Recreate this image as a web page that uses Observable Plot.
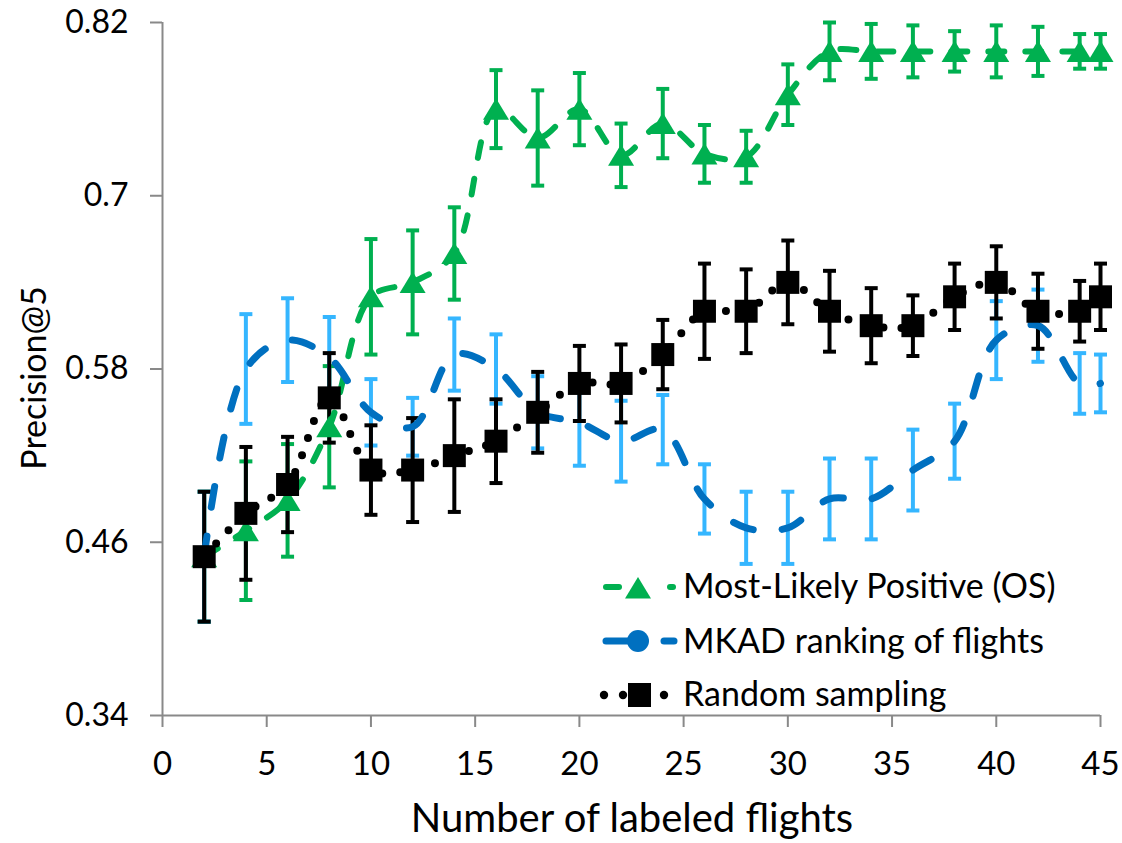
<!DOCTYPE html>
<html>
<head>
<meta charset="utf-8">
<script src="https://cdn.jsdelivr.net/npm/d3@7"></script>
<script src="https://cdn.jsdelivr.net/npm/@observablehq/plot@0.6"></script>
<style>
  html, body { margin: 0; padding: 0; background: #fff; }
  #chart { position: relative; width: 1122px; height: 843px; overflow: hidden; }
</style>
</head>
<body>
<div id="chart"></div>
<script>
// ---- data ----
const xs = [2,4,6,8,10,12,14,16,18,20,22,24,26,28,30,32,34,36,38,40,42,44,45];

const mlp    = [0.450,0.468,0.489,0.540,0.630,0.640,0.660,0.760,0.740,0.760,0.728,0.750,0.729,0.727,0.770,0.800,0.800,0.800,0.800,0.800,0.800,0.800,0.800];
const mlpErr = [0.045,0.048,0.039,0.042,0.040,0.036,0.032,0.027,0.033,0.025,0.022,0.024,0.020,0.018,0.021,0.020,0.019,0.018,0.014,0.018,0.017,0.012,0.012];

const mkad    = [0.450,0.580,0.600,0.588,0.550,0.540,0.590,0.580,0.550,0.543,0.530,0.538,0.490,0.470,0.470,0.490,0.490,0.510,0.530,0.600,0.610,0.570,0.570];
const mkadErr = [0.045,0.038,0.029,0.028,0.023,0.020,0.025,0.024,0.025,0.030,0.028,0.024,0.024,0.025,0.025,0.028,0.028,0.028,0.026,0.027,0.025,0.021,0.020];

const rnd    = [0.450,0.480,0.500,0.560,0.510,0.510,0.520,0.530,0.550,0.570,0.570,0.590,0.620,0.620,0.640,0.620,0.610,0.610,0.630,0.640,0.620,0.620,0.630];
const rndErr = [0.045,0.046,0.033,0.031,0.031,0.036,0.039,0.029,0.028,0.026,0.027,0.024,0.033,0.029,0.029,0.028,0.026,0.021,0.023,0.025,0.026,0.021,0.023];

const seriesNames = ["Most-Likely Positive (OS)", "MKAD ranking of flights", "Random sampling"];
const xTicks = [0,5,10,15,20,25,30,35,40,45];
const yTicks = [0.34,0.46,0.58,0.7,0.82];
const yTickLabels = ["0.34","0.46","0.58","0.7","0.82"];
const xTitle = "Number of labeled flights";
const yTitle = "Precision@5";

// ---- styling ----
const GREEN = "#00B050", BLUE = "#0070C0", LIGHTBLUE = "#35B6FF", BLACK = "#000000", AXIS = "#898989";
const FONT = "Lato, 'Open Sans', sans-serif";

const toRows = (vals, errs) => xs.map((x, i) => ({x, y: vals[i], e: errs[i]}));
const gRows = toRows(mlp, mlpErr);
const bRows = toRows(mkad, mkadErr);
const kRows = toRows(rnd, rndErr);

const capSymbol = {draw(ctx) { ctx.moveTo(-6.5, 0); ctx.lineTo(6.5, 0); }};
const triSymbol = {draw(ctx) { ctx.moveTo(0, -11); ctx.lineTo(13, 10.5); ctx.lineTo(-13, 10.5); ctx.closePath(); }};
const sqSymbol  = {draw(ctx) { ctx.rect(-11.5, -11.5, 23, 23); }};

function errorBars(rows, color) {
  return [
    Plot.ruleX(rows, {x: "x", y1: d => d.y - d.e, y2: d => d.y + d.e, stroke: color, strokeWidth: 4}),
    Plot.dot(rows, {x: "x", y: d => d.y + d.e, symbol: capSymbol, fill: "none", stroke: color, strokeWidth: 4}),
    Plot.dot(rows, {x: "x", y: d => d.y - d.e, symbol: capSymbol, fill: "none", stroke: color, strokeWidth: 4})
  ];
}

const svg = Plot.plot({
  width: 1122,
  height: 843,
  marginLeft: 162,
  marginRight: 22,
  marginTop: 22,
  marginBottom: 128,
  style: {fontFamily: FONT, fontSize: "32px", background: "#fff", color: "#000"},
  x: {domain: [0, 45]},
  y: {domain: [0.34, 0.82]},
  marks: [
    // axes
    Plot.axisY({ticks: yTicks, tickFormat: (d, i) => yTickLabels[i], tickSize: 12, tickPadding: 22, stroke: AXIS, strokeWidth: 2, fill: "#000", fontSize: 32, label: null}),
    Plot.axisX({ticks: xTicks, tickSize: 12, tickPadding: 24, stroke: AXIS, strokeWidth: 2, fill: "#000", fontSize: 33, label: null}),
    Plot.ruleX([0], {stroke: AXIS, strokeWidth: 2}),
    Plot.ruleY([0.34], {stroke: AXIS, strokeWidth: 2}),
    // error bars
    ...errorBars(gRows, GREEN),
    ...errorBars(bRows, LIGHTBLUE),
    ...errorBars(kRows, BLACK),
    // lines
    Plot.line(gRows, {x: "x", y: "y", stroke: GREEN, strokeWidth: 6, strokeDasharray: "16,21", strokeLinecap: "round", curve: "catmull-rom"}),
    Plot.line(bRows, {x: "x", y: "y", stroke: BLUE, strokeWidth: 7, strokeDasharray: "21,29", strokeLinecap: "round", curve: "catmull-rom"}),
    Plot.line(kRows, {x: "x", y: "y", stroke: BLACK, strokeWidth: 8, strokeDasharray: "0,18", strokeLinecap: "round", curve: "catmull-rom"}),
    // markers
    Plot.dot(gRows, {x: "x", y: "y", symbol: triSymbol, fill: GREEN, stroke: "none"}),
    Plot.dot(kRows, {x: "x", y: "y", symbol: sqSymbol, fill: BLACK, stroke: "none"})
  ]
});

const root = d3.select(svg);
// ---- axis titles ----
root.append("text").attr("x", 632).attr("y", 832).attr("text-anchor", "middle")
  .attr("font-family", FONT).attr("font-size", 40).attr("fill", "#000").text(xTitle);
root.append("text").attr("transform", "translate(46,378) rotate(-90)").attr("text-anchor", "middle")
  .attr("font-family", FONT).attr("font-size", 34).attr("fill", "#000").text(yTitle);

// ---- legend (inside the plot area, lower right) ----
const g = root.append("g").attr("class", "legend");
const rowY = [587, 641, 695];
const textBase = [598, 653, 706];
// row 1: green dash, triangle, dash
g.append("line").attr("x1", 606).attr("x2", 619).attr("y1", rowY[0]).attr("y2", rowY[0])
  .attr("stroke", GREEN).attr("stroke-width", 6).attr("stroke-linecap", "round");
g.append("path").attr("d", "M638,577L651,598.5L625,598.5Z").attr("fill", GREEN);
g.append("line").attr("x1", 670).attr("x2", 673).attr("y1", rowY[0]).attr("y2", rowY[0])
  .attr("stroke", GREEN).attr("stroke-width", 6).attr("stroke-linecap", "round");
// row 2: blue line, circle, dash
g.append("line").attr("x1", 606).attr("x2", 636).attr("y1", rowY[1]).attr("y2", rowY[1])
  .attr("stroke", BLUE).attr("stroke-width", 7).attr("stroke-linecap", "round");
g.append("circle").attr("cx", 638).attr("cy", rowY[1]).attr("r", 11).attr("fill", BLUE);
g.append("line").attr("x1", 664).attr("x2", 674).attr("y1", rowY[1]).attr("y2", rowY[1])
  .attr("stroke", BLUE).attr("stroke-width", 7).attr("stroke-linecap", "round");
// row 3: dots, square, dot
[604, 623, 664].forEach(cx => g.append("circle").attr("cx", cx).attr("cy", rowY[2]).attr("r", 4.2).attr("fill", BLACK));
g.append("rect").attr("x", 628).attr("y", 683).attr("width", 23).attr("height", 24).attr("fill", BLACK);
// labels
seriesNames.forEach((name, i) => {
  g.append("text").attr("x", 683).attr("y", textBase[i]).attr("text-anchor", "start").attr("font-family", FONT)
    .attr("font-size", 34).attr("fill", "#000").text(name);
});

document.getElementById("chart").appendChild(svg);
</script>
</body>
</html>
